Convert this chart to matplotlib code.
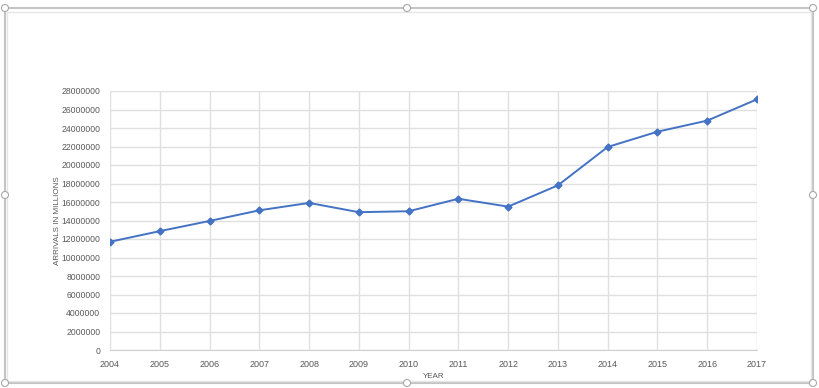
import numpy as np
import matplotlib.pyplot as plt
from matplotlib.patches import Rectangle, Ellipse

plt.rcParams['font.family'] = ['Liberation Sans', 'DejaVu Sans']

years = [2004, 2005, 2006, 2007, 2008, 2009, 2010, 2011, 2012, 2013, 2014, 2015, 2016, 2017]
arrivals = [11700000, 12850000, 13950000, 15100000, 15900000, 14900000, 15000000,
            16350000, 15500000, 17800000, 21950000, 23600000, 24800000, 27100000]
yticks = list(range(0, 28000001, 2000000))

W, H = 819, 388
fig = plt.figure(figsize=(W/100, H/100), dpi=100)
ax = fig.add_axes([110/W, 1-350/H, (757-110)/W, (350-91)/H])

ax.plot(years, arrivals, color='#4472C4', lw=1.4, marker='D', ms=3.5, zorder=3)

ax.set_xlim(2004, 2017)
ax.set_ylim(0, 28000000)
ax.set_xticks(years)
ax.set_yticks(yticks)
ax.set_yticklabels([str(v) for v in yticks])
ax.grid(True, color='#e0e0e0', lw=1)
ax.set_axisbelow(True)
for s in ['top', 'right', 'left']:
  ax.spines[s].set_visible(False)
ax.spines['bottom'].set_color('#d0d0d0')
ax.tick_params(axis='y', length=0, labelsize=6.2, colors='#595959', pad=7)
ax.tick_params(axis='x', length=0, labelsize=6.5, colors='#595959', pad=7)
ax.set_xlabel('YEAR', fontsize=5.8, color='#595959')
ax.set_ylabel('ARRIVALS IN MILLIONS', fontsize=5.8, color='#595959')
ax.xaxis.set_label_coords(0.5, -0.089)
ax.yaxis.set_label_coords(-0.075, 0.5)

# chart selection frame
fig.patches.append(Rectangle((5/W, 1-383/H), 808/W, 375/H, transform=fig.transFigure,
                             fill=False, edgecolor='#c4c4c4', lw=1.5))
fig.patches.append(Rectangle((7/W, 1-381/H), 804/W, 369/H, transform=fig.transFigure,
                             fill=False, edgecolor='#e6e6e6', lw=1))
for hx, hy in [(5, 8), (407, 8), (813, 8), (5, 195), (813, 195), (5, 383), (407, 383), (813, 383)]:
  fig.patches.append(Ellipse((hx/W, 1-hy/H), 7/W, 7/H, transform=fig.transFigure,
                             facecolor='white', edgecolor='#a8a8a8', lw=0.8, zorder=5))

fig.savefig('out.png', dpi=100)
